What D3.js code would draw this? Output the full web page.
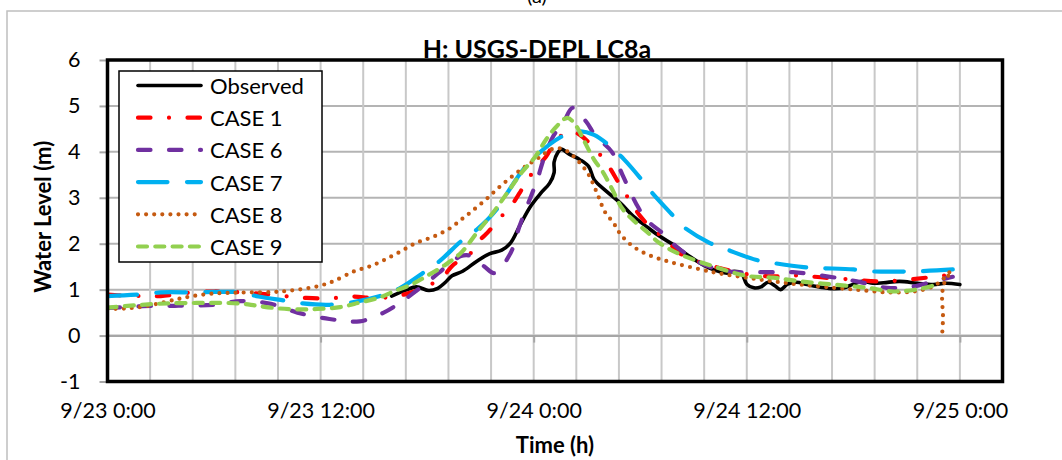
<!DOCTYPE html>
<html>
<head>
<meta charset="utf-8">
<script src="https://cdn.jsdelivr.net/npm/d3@7"></script>
<style>
  body { margin: 0; background: #fff; }
  svg { display: block; }
  text { font-family: Lato, "Open Sans", sans-serif; fill: #000; }
</style>
</head>
<body>
<svg id="chart" width="1062" height="460"></svg>
<script>
// ---- axis ticks and labels ----
const xTickHours = [0, 12, 24, 36, 48];
const xTickLabels = ["9/23 0:00", "9/23 12:00", "9/24 0:00", "9/24 12:00", "9/25 0:00"];
const yTicks = [-1, 0, 1, 2, 3, 4, 5, 6];
const seriesNames = ["Observed", "CASE 1", "CASE 6", "CASE 7", "CASE 8", "CASE 9"];

// ---- water level series: hours since 9/23 0:00 and level (m) ----
const observedHours = [16.0, 16.8, 17.4, 18.1, 18.6, 19.0, 19.4, 20.0, 20.8, 21.5, 22.2, 22.7, 23.2, 23.8, 24.4, 24.9, 25.15, 25.15, 25.35, 25.55, 26.0, 26.6, 27.1, 27.4, 28.1, 28.9, 29.6, 30.4, 31.1, 31.9, 32.5, 33.2, 33.9, 34.9, 35.3, 35.7, 36.0, 36.4, 36.8, 37.2, 37.6, 37.9, 38.3, 38.8, 39.4, 40.2, 40.9, 41.5, 42.0, 42.5, 43.1, 43.7, 44.6, 45.6, 46.5, 47.2, 48.0];
const observedLevel = [0.86, 0.99, 1.06, 0.98, 1.03, 1.15, 1.30, 1.40, 1.62, 1.78, 1.86, 2.02, 2.38, 2.80, 3.10, 3.32, 3.55, 3.78, 3.98, 4.06, 3.95, 3.83, 3.68, 3.40, 3.14, 2.88, 2.60, 2.36, 2.16, 1.97, 1.80, 1.62, 1.47, 1.36, 1.40, 1.36, 1.12, 1.04, 1.06, 1.16, 1.08, 1.00, 1.12, 1.16, 1.11, 1.05, 1.02, 1.04, 1.12, 1.18, 1.14, 1.15, 1.18, 1.14, 1.11, 1.14, 1.11];

const case1Hours = [0, 1.0, 2.0, 3.0, 4.5, 6.0, 7.5, 9.0, 10.2, 11.2, 12.5, 13.8, 15.0, 16.2, 17.0, 18.0, 18.9, 19.5, 20.3, 21.0, 21.4, 22.0, 22.7, 23.2, 23.6, 24.2, 24.7, 25.3, 26.05, 26.6, 27.4, 28.1, 28.9, 29.6, 30.0, 30.6, 31.5, 32.2, 33.5, 34.8, 36.1, 37.5, 38.8, 40.4, 41.9, 43.3, 44.6, 46.1, 47.2, 48.0];
const case1Level = [0.89, 0.87, 0.86, 0.86, 0.93, 0.96, 0.94, 0.90, 0.85, 0.82, 0.81, 0.85, 0.82, 0.85, 0.93, 1.07, 1.29, 1.55, 1.73, 2.09, 2.24, 2.52, 2.81, 3.10, 3.36, 3.68, 3.90, 4.27, 4.45, 4.37, 4.08, 3.76, 3.25, 2.83, 2.60, 2.35, 2.07, 1.80, 1.58, 1.44, 1.33, 1.29, 1.31, 1.26, 1.22, 1.18, 1.20, 1.26, 1.31, 1.33];

const case6Hours = [0, 2.0, 4.0, 6.0, 7.5, 9.2, 10.7, 12.5, 14.2, 15.5, 16.5, 17.2, 18.2, 19.1, 19.9, 20.4, 21.2, 21.8, 22.7, 23.2, 23.7, 24.2, 24.55, 25.1, 25.7, 26.2, 26.95, 27.5, 28.4, 29.0, 29.8, 30.4, 31.2, 32.0, 33.4, 34.9, 36.9, 38.6, 40.5, 42.2, 43.9, 45.4, 46.5, 47.6];
const case6Level = [0.60, 0.64, 0.65, 0.67, 0.75, 0.69, 0.50, 0.36, 0.31, 0.49, 0.72, 0.92, 1.22, 1.51, 1.73, 1.74, 1.51, 1.36, 1.80, 2.38, 2.89, 3.39, 3.83, 4.34, 4.66, 4.96, 4.66, 4.34, 4.00, 3.50, 2.85, 2.50, 2.25, 1.95, 1.58, 1.40, 1.38, 1.38, 1.29, 1.18, 1.04, 1.07, 1.18, 1.28];

const case7Hours = [0, 2.0, 3.0, 5.0, 6.0, 7.5, 8.5, 10.0, 11.0, 12.5, 14.0, 15.5, 16.5, 17.9, 18.7, 19.9, 20.8, 21.9, 22.5, 23.4, 24.2, 25.6, 26.4, 27.4, 28.3, 29.1, 30.0, 30.6, 31.8, 32.4, 33.9, 34.9, 36.5, 37.5, 39.2, 40.1, 42.0, 42.9, 45.6, 47.6];
const case7Level = [0.86, 0.90, 0.94, 0.94, 0.95, 0.94, 0.85, 0.76, 0.70, 0.67, 0.74, 0.88, 1.04, 1.40, 1.62, 2.05, 2.31, 2.74, 3.10, 3.61, 3.94, 4.34, 4.45, 4.37, 4.12, 3.83, 3.43, 3.14, 2.63, 2.38, 2.02, 1.87, 1.65, 1.58, 1.49, 1.47, 1.44, 1.40, 1.40, 1.44];

const case8Hours = [0, 1.0, 2.0, 3.1, 4.0, 4.8, 5.8, 6.8, 8.0, 9.4, 10.3, 11.8, 12.7, 13.9, 14.8, 15.6, 16.5, 17.4, 18.4, 19.3, 19.9, 20.5, 21.3, 22.0, 22.8, 23.6, 24.4, 24.9, 25.4, 25.9, 26.6, 27.1, 27.6, 28.0, 28.5, 28.9, 29.6, 30.5, 31.7, 33.4, 34.5, 36.0, 37.5, 39.0, 40.9, 42.4, 43.9, 45.4, 46.5, 47.1, 47.5, 47.1, 47.0, 47.05, 47.0];
const case8Level = [0.58, 0.59, 0.63, 0.72, 0.80, 0.86, 0.91, 0.93, 0.94, 0.95, 0.98, 1.07, 1.18, 1.40, 1.51, 1.65, 1.83, 2.02, 2.16, 2.34, 2.52, 2.70, 2.96, 3.21, 3.47, 3.70, 3.90, 4.04, 4.08, 4.01, 3.76, 3.50, 3.07, 2.70, 2.45, 2.20, 1.94, 1.75, 1.60, 1.44, 1.35, 1.26, 1.18, 1.11, 1.04, 0.99, 0.94, 0.96, 1.07, 1.25, 1.41, 1.12, 0.85, 0.40, 0.02];

const case9Hours = [0, 1.3, 2.3, 3.4, 5.2, 7.4, 8.4, 9.4, 10.6, 11.8, 13.1, 14.2, 15.4, 16.1, 17.1, 17.9, 18.9, 19.9, 20.8, 21.7, 22.5, 23.3, 24.1, 24.7, 25.3, 25.9, 26.4, 26.8, 27.4, 27.9, 28.4, 29.0, 29.7, 30.4, 31.1, 32.3, 34.1, 36.0, 37.5, 39.0, 40.9, 42.8, 44.3, 45.8, 46.6];
const case9Level = [0.61, 0.65, 0.68, 0.70, 0.71, 0.70, 0.65, 0.60, 0.57, 0.58, 0.62, 0.72, 0.84, 0.96, 1.11, 1.28, 1.51, 1.80, 2.24, 2.67, 3.10, 3.54, 3.90, 4.27, 4.56, 4.74, 4.56, 4.27, 3.83, 3.56, 3.20, 2.76, 2.48, 2.25, 2.01, 1.76, 1.51, 1.30, 1.26, 1.18, 1.11, 1.04, 0.96, 1.02, 1.10];

// ---- styles per series ----
const lineStyles = [
  { color: "#000000", width: 3.6, dash: null },
  { color: "#FF0000", width: 4.2, dash: "12.5,18.5,0,18.5" },
  { color: "#7030A0", width: 4.2, dash: "12.5,18.5" },
  { color: "#00B0F0", width: 4.2, dash: "29.5,19.5" },
  { color: "#C55A11", width: 4.2, dash: "0,8.1" },
  { color: "#92D050", width: 4.2, dash: "9,8.3" }
];

const hoursList = [observedHours, case1Hours, case6Hours, case7Hours, case8Hours, case9Hours];
const levelList = [observedLevel, case1Level, case6Level, case7Level, case8Level, case9Level];
const series = seriesNames.map((name, i) => ({
  name,
  style: lineStyles[i],
  points: hoursList[i].map((h, j) => [h, levelList[i][j]])
}));

// ---- layout ----
const svg = d3.select("#chart");
const plot = { left: 107.5, right: 1002.5, top: 60, bottom: 381.5 };
const x = d3.scaleLinear().domain([0, 50.4]).range([plot.left, plot.right]);
const y = d3.scaleLinear().domain([-1, 6]).range([plot.bottom, plot.top]);

// chart area frame
svg.append("rect")
  .attr("x", 7).attr("y", 11).attr("width", 1100).attr("height", 500)
  .attr("fill", "#fff").attr("stroke", "#BFBFBF").attr("stroke-width", 1.5);

// panel letter, partly above the top edge
svg.append("text")
  .attr("x", 537).attr("y", 3)
  .attr("text-anchor", "middle")
  .style("font-size", "20px")
  .text("(a)");

// gridlines: horizontal every 1 m, vertical every 2.4 h
const grid = svg.append("g");
grid.selectAll("line.h")
  .data(yTicks.filter(v => v > -1 && v < 6))
  .join("line").attr("class", "h")
  .attr("x1", plot.left).attr("x2", plot.right)
  .attr("y1", d => y(d)).attr("y2", d => y(d))
  .attr("stroke", "#B4B4B4").attr("stroke-width", 2);
grid.selectAll("line.v")
  .data(d3.range(1, 21).map(k => k * 2.4))
  .join("line").attr("class", "v")
  .attr("y1", plot.top).attr("y2", plot.bottom)
  .attr("x1", d => x(d)).attr("x2", d => x(d))
  .attr("stroke", "#C8C8C8").attr("stroke-width", 2);

// horizontal axis line crossing at zero, with major tick marks
const xZeroAxis = svg.append("g")
  .attr("transform", `translate(0,${y(0)})`)
  .call(d3.axisBottom(x).tickValues(xTickHours).tickSize(7).tickFormat(""));
xZeroAxis.select(".domain").attr("stroke", "#A6A6A6").attr("stroke-width", 2);
xZeroAxis.selectAll(".tick line").attr("stroke", "#A6A6A6").attr("stroke-width", 2);

// time labels along the bottom
const xLabelAxis = svg.append("g")
  .attr("transform", `translate(0,${plot.bottom})`)
  .call(d3.axisBottom(x).tickValues(xTickHours).tickSize(0).tickPadding(21)
    .tickFormat((d, i) => xTickLabels[i]));
xLabelAxis.select(".domain").remove();
xLabelAxis.selectAll("text").style("font-size", "21.5px").attr("fill", "#000");

// level axis
const yAxis = svg.append("g")
  .attr("transform", `translate(${plot.left},0)`)
  .call(d3.axisLeft(y).tickValues(yTicks).tickSize(8).tickPadding(19)
    .tickFormat(d => String(d)));
yAxis.select(".domain").remove();
yAxis.selectAll(".tick line").attr("stroke", "#A6A6A6").attr("stroke-width", 2);
yAxis.selectAll("text").style("font-size", "21.5px").attr("fill", "#000");

// series lines
svg.append("clipPath").attr("id", "plot-clip")
  .append("rect")
  .attr("x", plot.left).attr("y", plot.top)
  .attr("width", plot.right - plot.left).attr("height", plot.bottom - plot.top);

const line = d3.line()
  .x(d => x(d[0]))
  .y(d => y(d[1]))
  .curve(d3.curveCatmullRom.alpha(0.5));

svg.append("g").attr("clip-path", "url(#plot-clip)")
  .selectAll("path")
  .data(series)
  .join("path")
  .attr("d", d => line(d.points))
  .attr("fill", "none")
  .attr("stroke", d => d.style.color)
  .attr("stroke-width", d => d.style.width)
  .attr("stroke-linecap", "round")
  .attr("stroke-linejoin", "round")
  .attr("stroke-dasharray", d => d.style.dash);

// plot border
svg.append("rect")
  .attr("x", plot.left).attr("y", plot.top)
  .attr("width", plot.right - plot.left).attr("height", plot.bottom - plot.top)
  .attr("fill", "none").attr("stroke", "#000").attr("stroke-width", 3.5);

// legend
const legend = svg.append("g");
legend.append("rect")
  .attr("x", 119).attr("y", 71).attr("width", 203).attr("height", 191)
  .attr("fill", "#fff").attr("stroke", "#000").attr("stroke-width", 1.5);
const rows = legend.selectAll("g.row")
  .data(series)
  .join("g").attr("class", "row")
  .attr("transform", (d, i) => `translate(0,${85.5 + i * 32.2})`);
rows.append("line")
  .attr("x1", 138).attr("x2", 201).attr("y1", 0).attr("y2", 0)
  .attr("stroke", d => d.style.color)
  .attr("stroke-width", d => d.style.width)
  .attr("stroke-linecap", "round")
  .attr("stroke-dasharray", d => d.style.dash);
rows.append("text")
  .attr("x", 210).attr("y", 0)
  .attr("dominant-baseline", "central")
  .style("font-size", "22px")
  .text(d => d.name);

// titles
svg.append("text")
  .attr("x", 537).attr("y", 58)
  .attr("text-anchor", "middle")
  .style("font-size", "25px").style("font-weight", "bold")
  .text("H: USGS-DEPL LC8a");

svg.append("text")
  .attr("x", (plot.left + plot.right) / 2).attr("y", 453)
  .attr("text-anchor", "middle")
  .style("font-size", "22px").style("font-weight", "bold")
  .text("Time (h)");

svg.append("text")
  .attr("transform", `translate(42,${(plot.top + plot.bottom) / 2 - 4}) rotate(-90)`)
  .attr("text-anchor", "middle")
  .attr("dominant-baseline", "central")
  .style("font-size", "22px").style("font-weight", "bold")
  .text("Water Level (m)");
</script>
</body>
</html>
